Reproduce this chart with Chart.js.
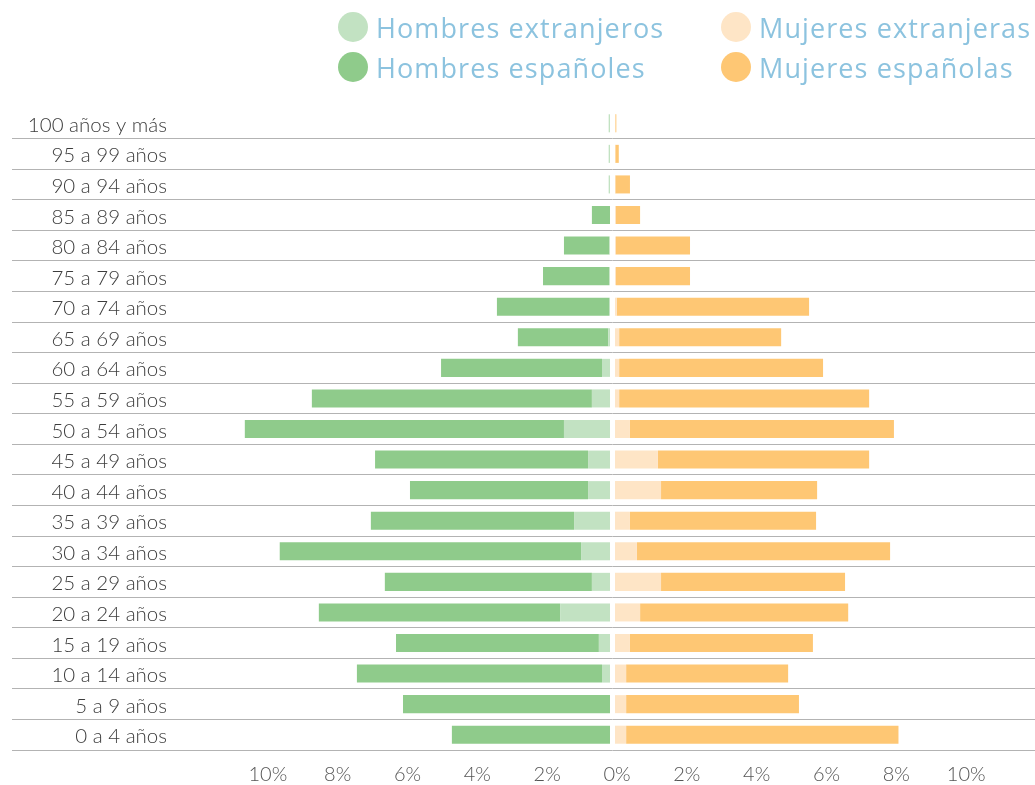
<!DOCTYPE html>
<html>
<head>
<meta charset="utf-8">
<script src="https://cdn.jsdelivr.net/npm/chart.js@4.4.1/dist/chart.umd.min.js"></script>
<style>
  html, body { margin: 0; padding: 0; background: #ffffff; }
  #wrap { position: relative; width: 1035px; height: 785px; overflow: hidden; }
  #chart { position: absolute; left: 0; top: 0; }
  #legend { position: absolute; left: 338px; top: 12px; display: grid;
            grid-template-columns: 383px 300px; grid-auto-rows: 40px; }
  .item { display: flex; align-items: center; height: 30px; white-space: nowrap;
          font-family: "Open Sans", sans-serif; font-size: 27px; letter-spacing: 1.1px; color: #8cc3df; }
  .dot { width: 30px; height: 30px; border-radius: 50%; margin-right: 8px; flex: none; }
</style>
</head>
<body>
<div id="wrap">
  <canvas id="chart" width="1035" height="785"></canvas>
  <div id="legend"></div>
</div>
<script>
// ---- Data (percent of total population) ----
const categories = [
  '100 años y más', '95 a 99 años', '90 a 94 años', '85 a 89 años', '80 a 84 años',
  '75 a 79 años', '70 a 74 años', '65 a 69 años', '60 a 64 años', '55 a 59 años',
  '50 a 54 años', '45 a 49 años', '40 a 44 años', '35 a 39 años', '30 a 34 años',
  '25 a 29 años', '20 a 24 años', '15 a 19 años', '10 a 14 años', '5 a 9 años', '0 a 4 años'
];
const hombresExtranjeros = [0.11, 0.11, 0.11, 0.07, 0.09, 0.09, 0.10, 0.12, 0.30, 0.59,
                            1.39, 0.70, 0.70, 1.10, 0.90, 0.59, 1.50, 0.39, 0.30, 0.07, 0.07];
const hombresEspanoles   = [0.00, 0.00, 0.00, 0.52, 1.30, 1.90, 3.21, 2.59, 4.61, 8.02,
                            9.14, 6.10, 5.10, 5.82, 8.63, 5.93, 6.91, 5.81, 7.02, 5.93, 4.53];
const mujeresExtranjeras = [0.08, 0.08, 0.08, 0.09, 0.10, 0.10, 0.12, 0.19, 0.19, 0.19,
                            0.50, 1.30, 1.39, 0.50, 0.70, 1.39, 0.79, 0.50, 0.39, 0.39, 0.39];
const mujeresEspanolas   = [0.03, 0.10, 0.42, 0.70, 2.12, 2.12, 5.51, 4.64, 5.84, 7.16,
                            7.56, 6.05, 4.47, 5.33, 7.25, 5.27, 5.96, 5.24, 4.64, 4.95, 7.80];
const xTickValues = [-10, -8, -6, -4, -2, 0, 2, 4, 6, 8, 10];

const seriesNames = ['Hombres extranjeros', 'Mujeres extranjeras', 'Hombres españoles', 'Mujeres españolas'];
const seriesColors = ['#c2e2c2', '#fee5c6', '#8fcb8b', '#fec774'];

const datasets = [
  { label: seriesNames[0], data: hombresExtranjeros.map(v => -v), backgroundColor: seriesColors[0] },
  { label: seriesNames[1], data: mujeresExtranjeras, backgroundColor: seriesColors[1] },
  { label: seriesNames[2], data: hombresEspanoles.map(v => -v), backgroundColor: seriesColors[2] },
  { label: seriesNames[3], data: mujeresEspanolas, backgroundColor: seriesColors[3] }
];

// white separator at zero, drawn over each bar row
const zeroGap = {
  id: 'zeroGap',
  afterDatasetsDraw(chart) {
    const x0 = chart.scales.x.getPixelForValue(0);
    const ctx = chart.ctx;
    const meta = chart.getDatasetMeta(0);
    ctx.save();
    ctx.fillStyle = '#ffffff';
    meta.data.forEach(bar => {
      const h = bar.height;
      ctx.fillRect(x0 - 2.5, bar.y - h / 2 - 1, 5, h + 2);
    });
    ctx.restore();
  }
};

const chart = new Chart(document.getElementById('chart'), {
  type: 'bar',
  data: { labels: categories, datasets },
  plugins: [zeroGap],
  options: {
    indexAxis: 'y',
    responsive: false,
    animation: false,
    devicePixelRatio: 1,
    layout: { padding: { top: 108, left: 0, right: 0, bottom: 0 } },
    datasets: { bar: { categoryPercentage: 1, barPercentage: 0.59, borderWidth: 0 } },
    plugins: { legend: { display: false }, tooltip: { enabled: false } },
    scales: {
      x: {
        stacked: true,
        min: -12.1, max: 12.1,
        grid: { display: false, drawTicks: false },
        border: { display: false },
        afterBuildTicks: s => { s.ticks = xTickValues.map(v => ({ value: v })); },
        afterFit: s => { s.height = 35; },
        ticks: {
          autoSkip: false, maxRotation: 0, padding: 12.5, labelOffset: 4.5,
          color: '#555555',
          font: { family: 'Lato', weight: '300', size: 20 },
          callback: v => Math.abs(v) + '%'
        }
      },
      y: {
        stacked: true,
        offset: true,
        afterFit: s => { s.width = 190; },
        grid: {
          offset: true,
          drawTicks: true,
          tickLength: 178,
          lineWidth: 1,
          color: c => (c.type === 'tick' && c.index === 0) ? 'rgba(0,0,0,0)' : '#b3b3b3'
        },
        border: { display: false },
        ticks: {
          padding: -155,
          labelOffset: 2,
          autoSkip: false,
          color: '#3c3c3c',
          font: { family: 'Lato', weight: '300', size: 20.5 }
        }
      }
    }
  }
});

// HTML legend built from the chart's datasets
const legendEl = document.getElementById('legend');
chart.data.datasets.forEach(ds => {
  const item = document.createElement('div');
  item.className = 'item';
  const dot = document.createElement('span');
  dot.className = 'dot';
  dot.style.background = ds.backgroundColor;
  const txt = document.createElement('span');
  txt.textContent = ds.label;
  item.appendChild(dot);
  item.appendChild(txt);
  legendEl.appendChild(item);
});
</script>
</body>
</html>
